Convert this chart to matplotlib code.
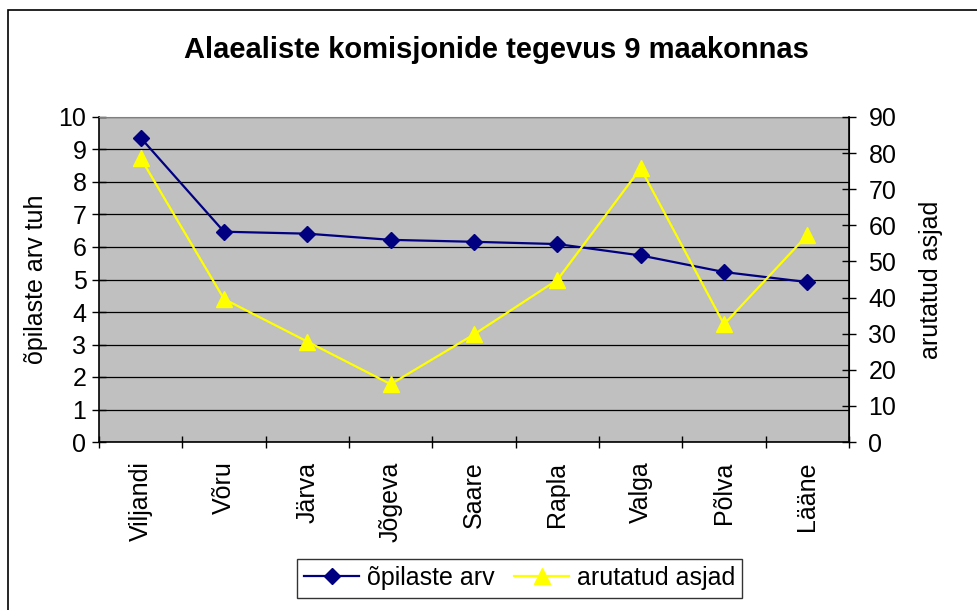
import matplotlib
matplotlib.use("Agg")
import matplotlib.pyplot as plt
from matplotlib.lines import Line2D
from matplotlib.patches import Rectangle
import numpy as np

plt.rcParams['font.family'] = ['Liberation Sans', 'DejaVu Sans']

categories = ["Viljandi", "Võru", "Järva", "Jõgeva", "Saare", "Rapla", "Valga", "Põlva", "Lääne"]
opilaste_arv = [9.36, 6.47, 6.41, 6.22, 6.16, 6.09, 5.74, 5.23, 4.92]
arutatud_asjad = [78.6, 39.6, 27.8, 16.0, 29.8, 44.9, 75.8, 32.6, 57.3]
left_ticks = list(range(0, 11))
right_ticks = list(range(0, 91, 10))

W, H = 978, 610
fig = plt.figure(figsize=(W / 100, H / 100), dpi=100)
fig.patch.set_facecolor('white')

# outer chart border
fig.patches.append(Rectangle((8 / W, -0.01), (W + 5 - 8) / W, (H - 10) / H + 0.01,
                             transform=fig.transFigure, fill=False,
                             edgecolor='black', linewidth=1.2))

left, right, top, bottom = 99, 849, 117, 442
ax = fig.add_axes([left / W, 1 - bottom / H, (right - left) / W, (bottom - top) / H])
ax.set_facecolor('#C0C0C0')
x = np.arange(len(categories))

ax.set_xlim(-0.5, len(categories) - 0.5)
ax.set_ylim(0, 10)
ax.set_yticks(left_ticks)
ax.yaxis.grid(True, color='black', linewidth=0.9)
ax.set_axisbelow(True)
ax.set_xticks(x)
ax.set_xticklabels(categories, rotation=90, fontsize=18)
ax.set_xticks(np.arange(-0.5, len(categories)), minor=True)
ax.tick_params(axis='x', which='major', length=0, pad=14)
ax.tick_params(axis='x', which='minor', length=8, direction='inout', width=1)
ax.tick_params(axis='y', labelsize=18, length=10, direction='inout', width=1, pad=4)
for s in ['left', 'bottom']:
    ax.spines[s].set_color('black')
    ax.spines[s].set_linewidth(1.2)
ax.spines['top'].set_color('#808080')
ax.spines['right'].set_color('black')
ax.set_ylabel("õpilaste arv tuh", fontsize=18, labelpad=8)

ax.plot(x, opilaste_arv, color='#000080', linewidth=1.6, marker='D', markersize=8,
        markerfacecolor='#000080', markeredgecolor='#000080', zorder=3)

ax2 = ax.twinx()
ax2.set_ylim(0, 90)
ax2.set_yticks(right_ticks)
ax2.tick_params(axis='y', labelsize=18, length=10, direction='inout', width=1, pad=9)
for s in ['left', 'top', 'bottom']:
    ax2.spines[s].set_visible(False)
ax2.spines['right'].set_color('black')
ax2.spines['right'].set_linewidth(1.2)
ax2.set_ylabel("arutatud asjad", fontsize=18, labelpad=16)
ax2.plot(x, arutatud_asjad, color='#FFFF00', linewidth=1.6, marker='^', markersize=11,
         markerfacecolor='#FFFF00', markeredgecolor='#FFFF00', zorder=3)

fig.text(496.5 / W, 1 - 50 / H, "Alaealiste komisjonide tegevus 9 maakonnas",
         ha='center', va='center', fontsize=21, fontweight='bold')

handles = [
    Line2D([], [], color='#000080', linewidth=1.6, marker='D', markersize=8),
    Line2D([], [], color='#FFFF00', linewidth=1.6, marker='^', markersize=11),
]
leg = fig.legend(handles, ["õpilaste arv", "arutatud asjad"], loc='center',
                 bbox_to_anchor=(519.5 / W, 1 - 578 / H), ncol=2, fontsize=18,
                 frameon=True, fancybox=False, edgecolor='black', handlelength=2.2,
                 handletextpad=0.3, columnspacing=0.8, borderpad=0.3)
leg.get_frame().set_linewidth(1.0)

fig.savefig("out.png", dpi=100, facecolor='white')
